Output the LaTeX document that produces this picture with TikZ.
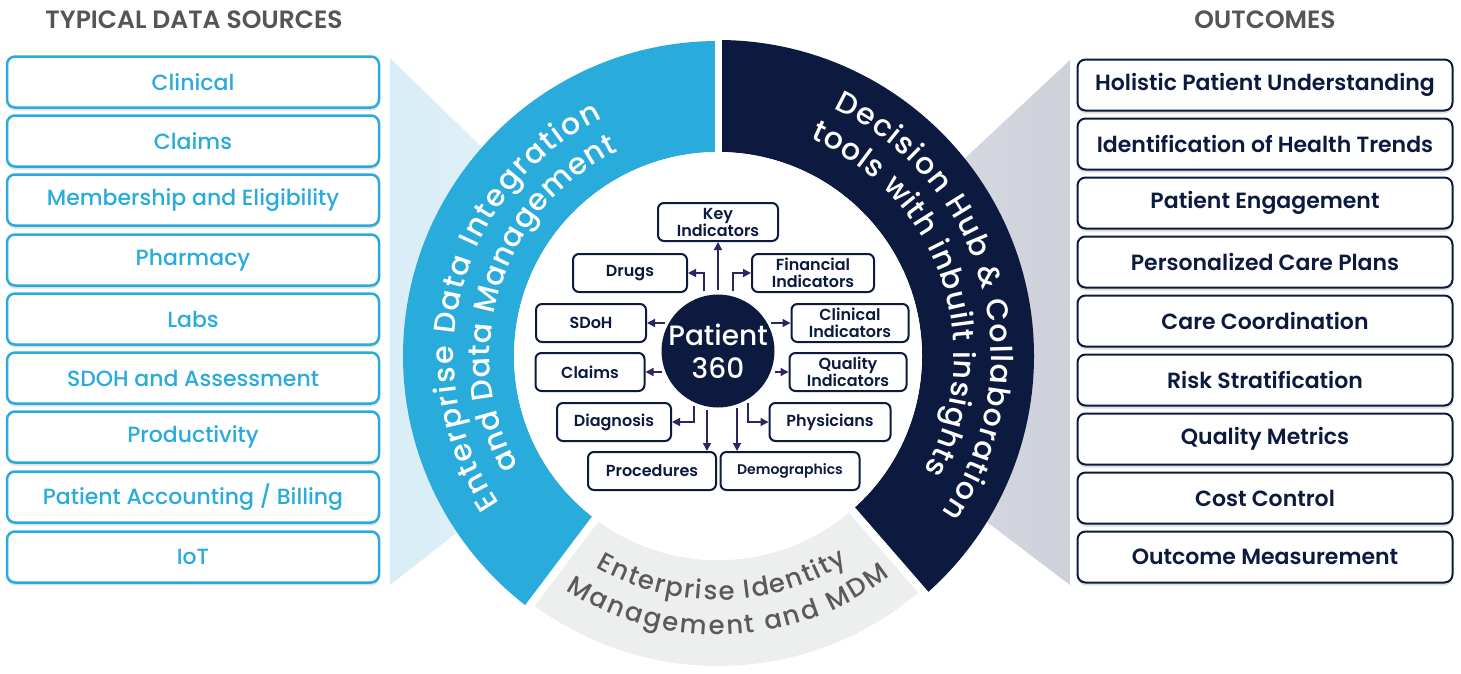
\documentclass[tikz,border=0pt]{standalone}
\usepackage{fontspec}
\setmainfont{Poppins}[BoldFont={Poppins SemiBold}]
\newfontfamily\popmed{Poppins Medium}
\usetikzlibrary{arrows.meta,decorations.text,shadows}
\definecolor{blueC}{HTML}{29ABDB}
\definecolor{navyC}{HTML}{0C1A3F}
\definecolor{arrC}{HTML}{2D2461}
\definecolor{hdrC}{HTML}{555555}
\definecolor{grayband}{HTML}{EDEFEF}
\definecolor{grayTxt}{HTML}{5A5A5A}
\definecolor{ltblue}{HTML}{D8EDF6}
\definecolor{ltgray}{HTML}{CED1DA}
\newcommand{\pxfont}[2]{\fontsize{#1}{#2}\selectfont}
\begin{document}
\begin{tikzpicture}[x=1pt,y=-1pt,
  srcbox/.style={draw=blueC, line width=2.5pt, rounded corners=8pt, fill=white,
    minimum width=372pt, minimum height=51pt, text=blueC, font=\popmed\pxfont{22}{26},
    drop shadow={shadow xshift=0pt, shadow yshift=-3pt, opacity=0.12, fill=black}},
  outbox/.style={draw=navyC, line width=2pt, rounded corners=8pt, fill=white,
    minimum width=375pt, minimum height=51pt, text=navyC, font=\bfseries\pxfont{22}{26},
    drop shadow={shadow xshift=0pt, shadow yshift=-3pt, opacity=0.12, fill=black}},
  inbox/.style={draw=navyC, line width=2pt, rounded corners=6pt, fill=white,
    minimum height=38pt, inner sep=0pt, text=navyC, font=\bfseries\pxfont{16}{17}, align=center},
  arr/.style={draw=arrC, line width=1.4pt, -{Triangle[length=8pt,width=8pt]}},
  hdr/.style={text=hdrC, font=\bfseries\pxfont{25}{28}},
]
\useasboundingbox (0,0) rectangle (1461,673);

% headers
\node[hdr] (h1) at (194,20) {TYPICAL DATA SOURCES};
\node[hdr] (h2) at (1265,20) {OUTCOMES};

% background wedges
\shade[left color=ltblue, right color=ltblue!45] (390,58) -- (690,350) -- (390,585) -- cycle;
\shade[left color=ltgray!60, right color=ltgray] (1070,60) -- (760,350) -- (1070,585) -- cycle;

% ring
\begin{scope}[shift={(718,356)}, y=1pt]
  \fill[blueC] (90:315) arc[start angle=90,end angle=233,radius=315] -- (233:204) arc[start angle=233,end angle=90,radius=204] -- cycle;
  \fill[navyC] (90:316) arc[start angle=90,end angle=-49,radius=316] -- (-49:204) arc[start angle=-49,end angle=90,radius=204] -- cycle;
  \fill[grayband] (233:310) arc[start angle=233,end angle=311,radius=310] -- (311:204) arc[start angle=311,end angle=233,radius=204] -- cycle;
  \fill[white] (0,0) circle[radius=204];
  \draw[white,line width=7pt] (90:198) -- (90:322);
  \draw[white,line width=8pt] (233:198) -- (233:322);
  \draw[white,line width=8pt] (311:198) -- (311:322);
  % curved texts
  \path[decorate, decoration={text along path, text align=fit to path, text color=white,
     text={|\popmed\pxfont{30}{30}|Enterprise Data Integration}}]
     (214:264) arc[start angle=214,end angle=116,radius=264];
  \path[decorate, decoration={text along path, text align=fit to path, text color=white,
     text={|\popmed\pxfont{30}{30}|and Data Management}}]
     (209:228) arc[start angle=209,end angle=116,radius=228];
  \path[decorate, decoration={text along path, text align=fit to path, text color=white,
     text={|\popmed\pxfont{30}{30}|Decision Hub {\&} Collaboration}}]
     (65:273) arc[start angle=65,end angle=-35,radius=273];
  \path[decorate, decoration={text along path, text align=fit to path, text color=white,
     text={|\popmed\pxfont{30}{30}|tools with inbuilt insights}}]
     (67:236) arc[start angle=67,end angle=-29,radius=236];
  \path[decorate, decoration={text along path, text align=fit to path, text color=grayTxt,
     text={|\popmed\pxfont{26}{26}|Enterprise Identity}}]
     (240:244) arc[start angle=240,end angle=302,radius=244];
  \path[decorate, decoration={text along path, text align=fit to path, text color=grayTxt,
     text={|\popmed\pxfont{26}{26}|Management and MDM}}]
     (237:279) arc[start angle=237,end angle=308,radius=279];
\end{scope}

% left column
\node[srcbox] (s1) at (193,82) {Clinical};
\node[srcbox] (s2) at (193,141) {Claims};
\node[srcbox] (s3) at (193,200) {Membership and Eligibility};
\node[srcbox] (s4) at (193,260) {Pharmacy};
\node[srcbox] (s5) at (193,319) {Labs};
\node[srcbox] (s6) at (193,378) {SDOH and Assessment};
\node[srcbox] (s7) at (193,437) {Productivity};
\node[srcbox] (s8) at (193,497) {Patient Accounting / Billing};
\node[srcbox] (s9) at (193,557) {IoT};

% right column
\node[outbox] (o1) at (1265,85) {Holistic Patient Understanding};
\node[outbox] (o2) at (1265,144) {Identification of Health Trends};
\node[outbox] (o3) at (1265,203) {Patient Engagement};
\node[outbox] (o4) at (1265,262) {Personalized Care Plans};
\node[outbox] (o5) at (1265,321) {Care Coordination};
\node[outbox] (o6) at (1265,380) {Risk Stratification};
\node[outbox] (o7) at (1265,439) {Quality Metrics};
\node[outbox] (o8) at (1265,498) {Cost Control};
\node[outbox] (o9) at (1265,557) {Outcome Measurement};

% centre
\node[circle, fill=navyC, minimum size=104pt, inner sep=0pt, text=white, align=center,
      font=\popmed\pxfont{28}{33}] (p360) at (718,351) {Patient\\360};

\node[inbox, minimum width=120pt] (key) at (718,222) {Key\\Indicators};
\node[inbox, minimum width=114pt] (drugs) at (630,273) {Drugs};
\node[inbox, minimum width=122pt] (fin) at (813,273) {Financial\\Indicators};
\node[inbox, minimum width=110pt] (sdoh) at (591,323) {SDoH};
\node[inbox, minimum width=117pt] (clin) at (850,323) {Clinical\\Indicators};
\node[inbox, minimum width=109pt] (claims) at (590,372) {Claims};
\node[inbox, minimum width=117pt] (qual) at (848,372) {Quality\\Indicators};
\node[inbox, minimum width=114pt] (diag) at (614,422) {Diagnosis};
\node[inbox, minimum width=121pt] (phys) at (830,422) {Physicians};
\node[inbox, minimum width=128pt] (proc) at (652,471) {Procedures};
\node[inbox, minimum width=139pt, font=\bfseries\pxfont{14}{17}] (demo) at (790,471) {Demographics};

% arrows
\coordinate (aKey) at (718,290);
\coordinate (aDr) at (704,291);
\coordinate (aFin) at (733,291);
\coordinate (aSd) at (665,323);
\coordinate (aCl) at (771,323);
\coordinate (aCm) at (662,372);
\coordinate (aQu) at (775,372);
\coordinate (aDg) at (694,406);
\coordinate (aPr) at (707,410);
\coordinate (aDe) at (737,408);
\coordinate (aPh) at (748,403);

\draw[arr] (aKey) -- (key.south);
\draw[arr] (aDr) |- (drugs.east);
\draw[arr] (aFin) |- (fin.west);
\draw[arr] (aSd) -- (sdoh.east);
\draw[arr] (aCl) -- (clin.west);
\draw[arr] (aCm) -- (claims.east);
\draw[arr] (aQu) -- (qual.west);
\draw[arr] (aDg) |- (diag.east);
\draw[arr] (aPr) -- (aPr |- proc.north);
\draw[arr] (aDe) -- (aDe |- demo.north);
\draw[arr] (aPh) |- (phys.west);
\end{tikzpicture}
\end{document}
